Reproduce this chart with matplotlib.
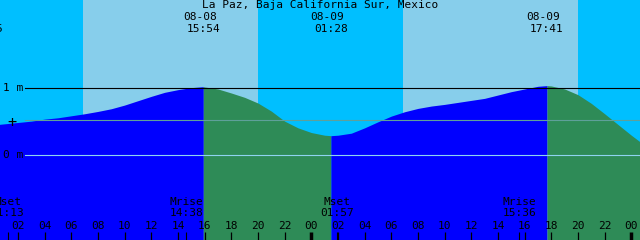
import matplotlib
matplotlib.use("Agg")
import matplotlib.pyplot as plt
import matplotlib.transforms as mtransforms
import numpy as np

# tide chart data (hours counted from 08-08 00:00, heights in metres)
title = "La Paz, Baja California Sur, Mexico"
hours = list(range(0, 50))
heights = [0.45, 0.47, 0.49, 0.51, 0.54, 0.56, 0.59, 0.62, 0.655, 0.695,
           0.75, 0.815, 0.88, 0.94, 0.98, 1.01, 1.02, 0.99, 0.93, 0.865,
           0.78, 0.66, 0.51, 0.41, 0.34, 0.30, 0.30, 0.33, 0.41, 0.50,
           0.585, 0.65, 0.70, 0.735, 0.76, 0.79, 0.82, 0.85, 0.90, 0.95,
           0.99, 1.03, 1.035, 0.99, 0.905, 0.775, 0.62, 0.46, 0.30, 0.15]

event_times = [-0.42, 15.9, 25.47, 41.68]
event_heights = [0.44, 1.024, 0.293, 1.04]
event_kind = ["low", "high", "low", "high"]
event_dates = ["08-07", "08-08", "08-09", "08-09"]
event_clock = ["23:35", "15:54", "01:28", "17:41"]

sunrise = [6.88, 30.88]
sunset = [20.0, 44.0]

moon_times = [1.22, 14.63, 25.95, 39.6]
moon_names = ["Mset", "Mrise", "Mset", "Mrise"]
moon_clock = ["01:13", "14:38", "01:57", "15:36"]

mean_level = 0.52
hour_ticks = list(range(2, 49, 2))

# colours
night = "#00BFFF"
day = "#87CEEB"
rising = "#0000FF"
falling = "#2E8B57"

W, H = 640, 240
x0, x1 = 0.6525, 48.6525
y0, y1 = -1.264, 2.318

fig = plt.figure(figsize=(W / 100, H / 100), dpi=100)
ax = fig.add_axes([0, 0, 1, 1])
ax.set_xlim(x0, x1)
ax.set_ylim(y0, y1)
ax.axis("off")
fig.patch.set_facecolor(night)
ax.set_facecolor(night)

trans = mtransforms.blended_transform_factory(ax.transData, ax.transAxes)
date_trans = trans + mtransforms.ScaledTranslation(-3.5 / 100, 0, fig.dpi_scale_trans)

def py(p):
    # pixel row -> axes fraction
    return 1 - p / H

for a, b in zip(sunrise, sunset):
    ax.axvspan(a, b, color=day, lw=0, zorder=1)

# merge hourly readings with the extremes
t = np.array(hours + event_times, dtype=float)
h = np.array(heights + event_heights, dtype=float)
order = np.argsort(t)
t, h = t[order], h[order]

bounds = [x0 - 1] + [e for e in event_times if x0 - 1 < e < x1 + 1] + [x1 + 1]
for a, b in zip(bounds[:-1], bounds[1:]):
    m = (t >= a) & (t <= b)
    nxt = [k for k, e in zip(event_kind, event_times) if e >= b - 1e-9]
    col = rising if (nxt and nxt[0] == "high") or (not nxt and event_kind[-1] == "low") else falling
    ax.fill_between(t[m], y0, h[m], color=col, lw=0, zorder=2)

# reference lines
ax.axhline(1.0, xmin=25 / W, color="black", lw=0.8, zorder=3)
ax.axhline(mean_level, xmin=25 / W, color="#5FA09A", lw=0.8, zorder=3)
ax.axhline(0.0, xmin=25 / W, color="#8FD3F0", lw=0.8, zorder=3)

font = dict(family="DejaVu Sans Mono", fontsize=8, color="black", zorder=5)
ax.text(2.7 / W, py(88), "1 m", transform=ax.transAxes, ha="left", va="center", **font)
ax.text(2.7 / W, py(155), "0 m", transform=ax.transAxes, ha="left", va="center", **font)
ax.text(12 / W, py(122.5), "+", transform=ax.transAxes, ha="center", va="center",
        family="DejaVu Sans Mono", fontsize=11, color="black", zorder=5)

ax.text(0.5, py(5.5), title, transform=ax.transAxes, ha="center", va="center", **font)
for et, d, c in zip(event_times, event_dates, event_clock):
    ax.text(et, py(17.5), d, transform=date_trans, ha="center", va="center", **font)
    ax.text(et, py(29.5), c, transform=trans, ha="center", va="center", **font)

for mt, n, c in zip(moon_times, moon_names, moon_clock):
    ax.text(mt, py(202), n, transform=trans, ha="center", va="center", **font)
    ax.text(mt, py(213.5), c, transform=trans, ha="center", va="center", **font)
    ax.vlines(mt, 0, py(232), transform=trans, color="black", lw=0.8, zorder=4)

for ht in hour_ticks:
    ax.text(ht, py(226), "%02d" % (ht % 24), transform=trans, ha="center", va="center", **font)
    lw = 2.5 if ht % 24 == 0 else 0.9
    ax.vlines(ht, 0, py(232), transform=trans, color="black", lw=lw, zorder=4)

fig.savefig("out.png", dpi=100, facecolor=night)
